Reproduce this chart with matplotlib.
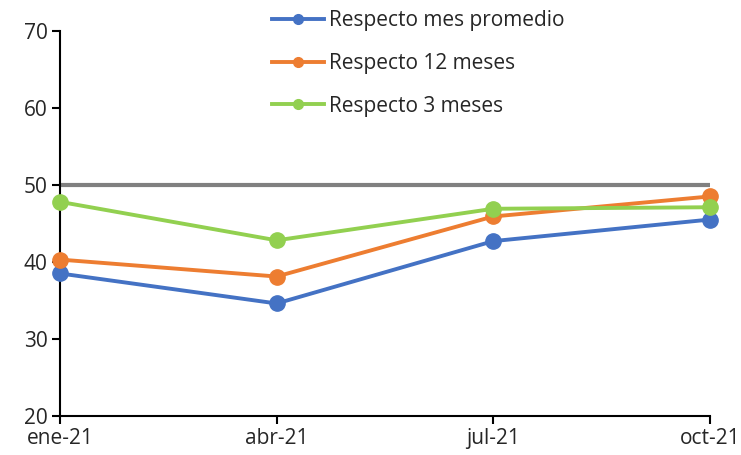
import matplotlib.pyplot as plt
from matplotlib.lines import Line2D

plt.rcParams['font.family'] = ['Open Sans', 'DejaVu Sans']

categories = ["ene-21", "abr-21", "jul-21", "oct-21"]
mes_promedio = [38.5, 34.6, 42.7, 45.5]
doce_meses = [40.3, 38.1, 45.9, 48.5]
tres_meses = [47.8, 42.8, 46.9, 47.1]
umbral = [50, 50, 50, 50]

labels = ["Respecto mes promedio", "Respecto 12 meses", "Respecto 3 meses"]
colors = ["#4472C4", "#ED7D31", "#92D050"]
series = [mes_promedio, doce_meses, tres_meses]

fig = plt.figure(figsize=(7.41, 4.55), dpi=100)
ax = fig.add_axes([0.081, 0.086, 0.877, 0.846])

x = list(range(len(categories)))
ax.plot(x, umbral, color="#808080", lw=3.0, solid_capstyle="round", zorder=2)
for vals, c in zip(series, colors):
    ax.plot(x, vals, color=c, lw=2.8, marker="o", markersize=11, zorder=3,
            clip_on=False)

ax.set_xlim(0, 3)
ax.set_ylim(20, 70)
ax.set_yticks([20, 30, 40, 50, 60, 70])
ax.set_xticks(x)
ax.set_xticklabels(categories)

for side in ["top", "right"]:
    ax.spines[side].set_visible(False)
for side in ["left", "bottom"]:
    ax.spines[side].set_linewidth(1.5)
    ax.spines[side].set_color("black")

ax.tick_params(axis="both", direction="out", length=6, width=1.5,
               labelsize=15, labelcolor="#262626", pad=3)
ax.tick_params(axis="x", pad=3)

handles = [Line2D([0], [0], color=c, lw=2.8, marker="o", markersize=7)
           for c in colors]
leg = fig.legend(handles, labels, loc="upper left",
                 bbox_to_anchor=(272 / 741, 1 - 10 / 455),
                 bbox_transform=fig.transFigure, frameon=False,
                 fontsize=15, handlelength=2.5, handletextpad=0.25,
                 labelspacing=1.05, borderaxespad=0, borderpad=0)
for t in leg.get_texts():
    t.set_color("#262626")

fig.savefig("out.png", dpi=100)
